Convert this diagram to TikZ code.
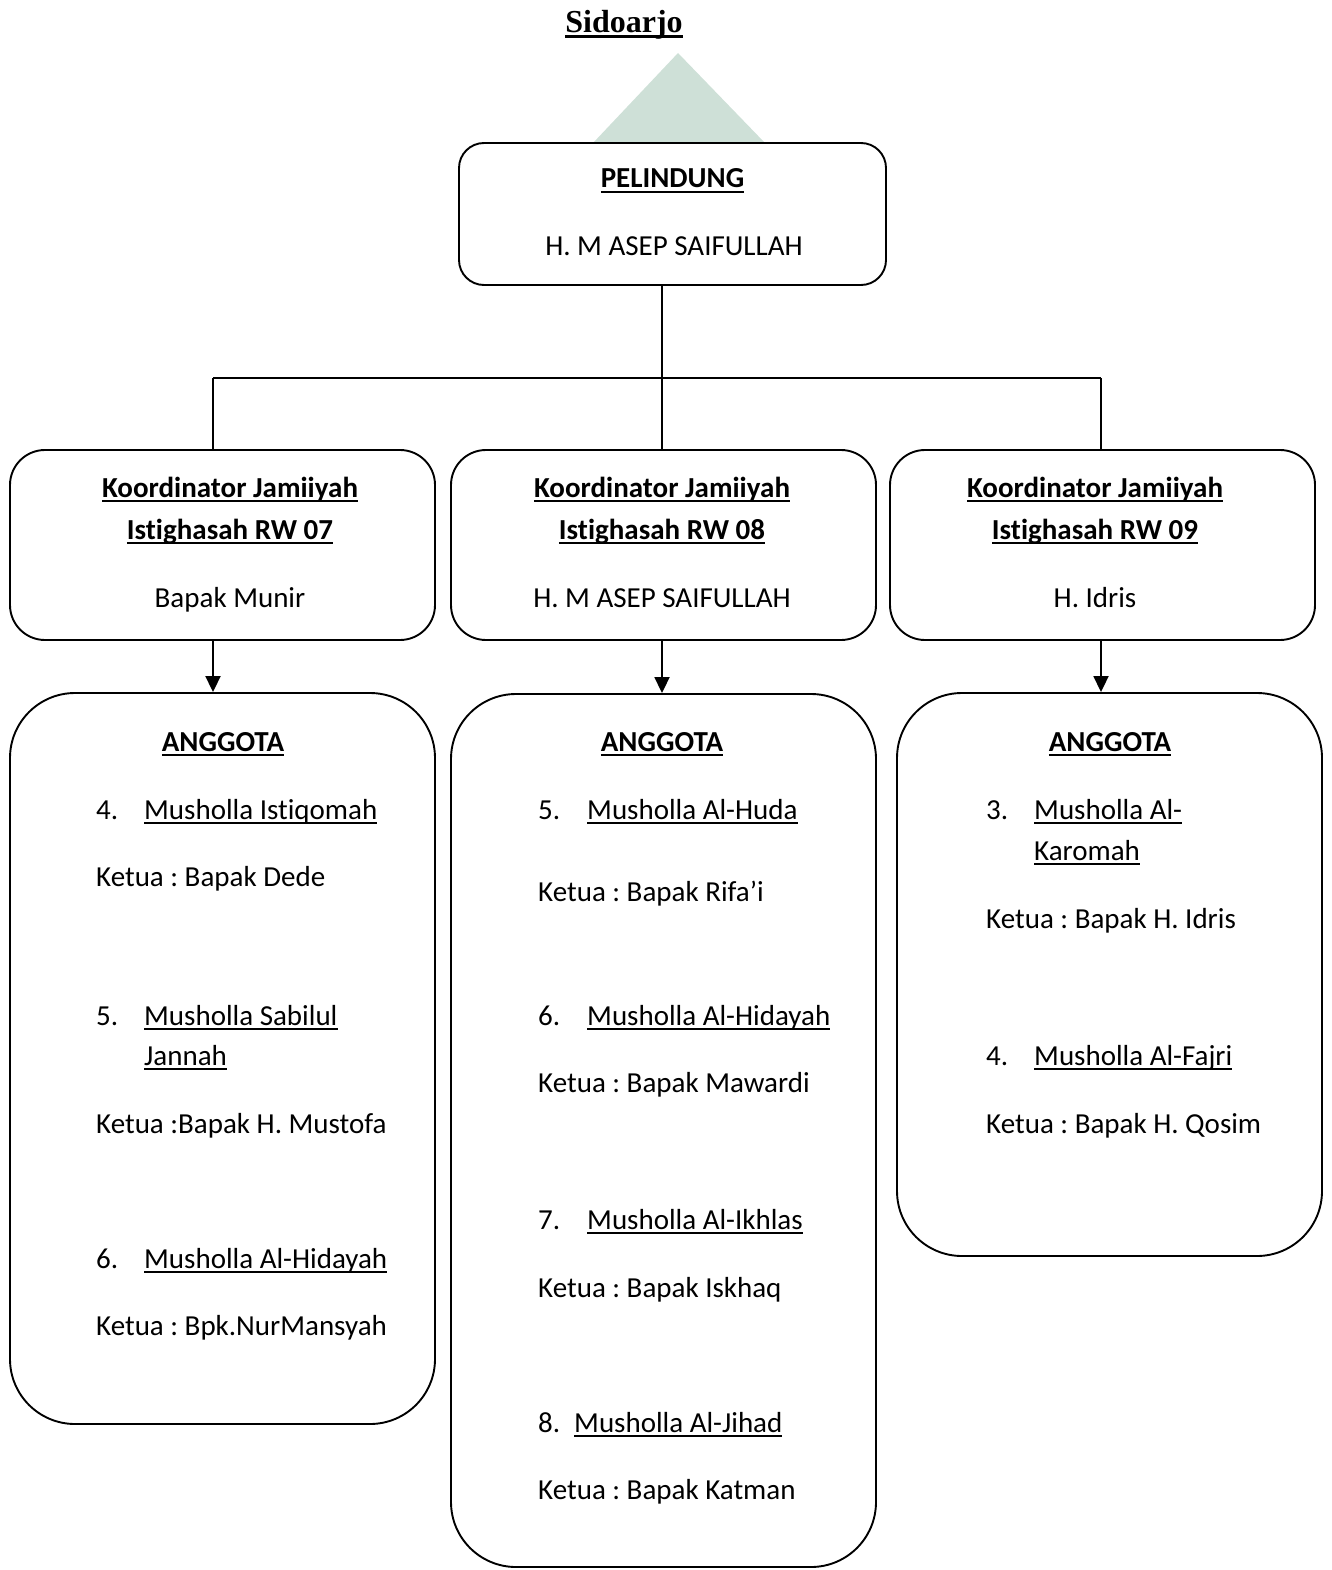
\documentclass[tikz,border=0pt]{standalone}
\usepackage{fontspec}
\setmainfont[Ligatures=NoCommon]{Carlito}
\newfontfamily\titlefont{Liberation Serif}
\usetikzlibrary{arrows.meta}
\frenchspacing
\newcommand{\myul}[1]{\setbox0=\hbox{#1}\rlap{\rule[-5pt]{\wd0}{2.2pt}}\box0}
\definecolor{wmark}{RGB}{206,224,215}
\tikzset{
  box/.style={draw, line width=1.9pt, fill=white, inner sep=0pt},
  tl/.style={inner sep=0pt, anchor=base west, font=\fontsize{29pt}{34pt}\selectfont},
  tc/.style={inner sep=0pt, anchor=base, font=\fontsize{29pt}{34pt}\selectfont},
  tcb/.style={tc, font=\fontsize{29pt}{34pt}\selectfont\bfseries},
  conn/.style={line width=1.9pt},
  arr/.style={line width=1.9pt, -{Triangle[length=16pt,width=15pt]}}
}
\begin{document}
\begin{tikzpicture}[x=1pt,y=-1pt]
\useasboundingbox (0,0) rectangle (1331,1570);
% title
\node[inner sep=0pt, anchor=base, font=\titlefont\fontsize{32pt}{36pt}\selectfont\bfseries] (title) at (624,33) {\setbox0=\hbox{Sidoarjo}\rlap{\rule[-5pt]{\wd0}{3pt}}\box0};
% watermark
\fill[wmark] (678,53) -- (593,143) -- (765,143) -- cycle;
% boxes
\node[box, rounded corners=25pt, minimum width=427pt, minimum height=142pt] (p) at (672.5,214) {};
\node[box, rounded corners=35pt, minimum width=425pt, minimum height=190pt] (k1) at (222.5,545) {};
\node[box, rounded corners=35pt, minimum width=425pt, minimum height=190pt] (k2) at (663.5,545) {};
\node[box, rounded corners=35pt, minimum width=425pt, minimum height=190pt] (k3) at (1102.5,545) {};
\node[box, rounded corners=65pt, minimum width=425pt, minimum height=731pt] (a1) at (222.5,1058.5) {};
\node[box, rounded corners=65pt, minimum width=425pt, minimum height=873pt] (a2) at (663.5,1130.5) {};
\node[box, rounded corners=65pt, minimum width=425pt, minimum height=563pt] (a3) at (1109.5,974.5) {};
% connectors
\coordinate (j) at (662,378);
\coordinate (jl) at (213,378);
\coordinate (jr) at (1101,378);
\draw[conn] (p.south -| j) -- (j);
\draw[conn] (jl) -- (jr);
\draw[conn] (jl) -- (jl |- k1.north);
\draw[conn] (j) -- (j |- k2.north);
\draw[conn] (jr) -- (jr |- k3.north);
\draw[arr] (jl |- k1.south) -- (jl |- a1.north);
\draw[arr] (j |- k2.south) -- (j |- a2.north);
\draw[arr] (jr |- k3.south) -- (jr |- a3.north);
% pelindung text
\node[tcb] (pt1) at (672.5,188) {\myul{PELINDUNG}};
\node[tc] (pt2) at (674,255) {H. M ASEP SAIFULLAH};
% koordinator texts
\node[tcb] (k1a) at (230,497) {\myul{Koordinator Jamiiyah}};
\node[tcb] (k1b) at (230,539) {\myul{Istighasah RW 07}};
\node[tc] (k1c) at (230,607) {Bapak Munir};
\node[tcb] (k2a) at (662,497) {\myul{Koordinator Jamiiyah}};
\node[tcb] (k2b) at (662,539) {\myul{Istighasah RW 08}};
\node[tc] (k2c) at (662,607) {H. M ASEP SAIFULLAH};
\node[tcb] (k3a) at (1095,497) {\myul{Koordinator Jamiiyah}};
\node[tcb] (k3b) at (1095,539) {\myul{Istighasah RW 09}};
\node[tc] (k3c) at (1095,607) {H. Idris};
% anggota left
\node[tcb] (l0) at (223,751) {\myul{ANGGOTA}};
\node[tl] (l1n) at (96,819) {4.};
\node[tl] (l1) at (144,819) {\myul{Musholla Istiqomah}};
\node[tl] (l1k) at (96,886) {Ketua : Bapak Dede};
\node[tl] (l2n) at (96,1025) {5.};
\node[tl] (l2) at (144,1025) {\myul{Musholla Sabilul}};
\node[tl] (l2b) at (144,1065) {\myul{Jannah}};
\node[tl] (l2k) at (96,1133) {Ketua :Bapak H. Mustofa};
\node[tl] (l3n) at (96,1268) {6.};
\node[tl] (l3) at (144,1268) {\myul{Musholla Al-Hidayah}};
\node[tl] (l3k) at (96,1335) {Ketua : Bpk.NurMansyah};
% anggota middle
\node[tcb] (m0) at (662,751) {\myul{ANGGOTA}};
\node[tl] (m1n) at (538,819) {5.};
\node[tl] (m1) at (587,819) {\myul{Musholla Al-Huda}};
\node[tl] (m1k) at (538,901) {Ketua : Bapak Rifa’i};
\node[tl] (m2n) at (538,1025) {6.};
\node[tl] (m2) at (587,1025) {\myul{Musholla Al-Hidayah}};
\node[tl] (m2k) at (538,1092) {Ketua : Bapak Mawardi};
\node[tl] (m3n) at (538,1229) {7.};
\node[tl] (m3) at (587,1229) {\myul{Musholla Al-Ikhlas}};
\node[tl] (m3k) at (538,1297) {Ketua : Bapak Iskhaq};
\node[tl] (m4n) at (538,1432) {8.};
\node[tl] (m4) at (574,1432) {\myul{Musholla Al-Jihad}};
\node[tl] (m4k) at (538,1499) {Ketua : Bapak Katman};
% anggota right
\node[tcb] (r0) at (1110,751) {\myul{ANGGOTA}};
\node[tl] (r1n) at (986,819) {3.};
\node[tl] (r1) at (1034,819) {\myul{Musholla Al-}};
\node[tl] (r1b) at (1034,860) {\myul{Karomah}};
\node[tl] (r1k) at (986,928) {Ketua : Bapak H. Idris};
\node[tl] (r2n) at (986,1065) {4.};
\node[tl] (r2) at (1034,1065) {\myul{Musholla Al-Fajri}};
\node[tl] (r2k) at (986,1133) {Ketua : Bapak H. Qosim};
\end{tikzpicture}
\end{document}
